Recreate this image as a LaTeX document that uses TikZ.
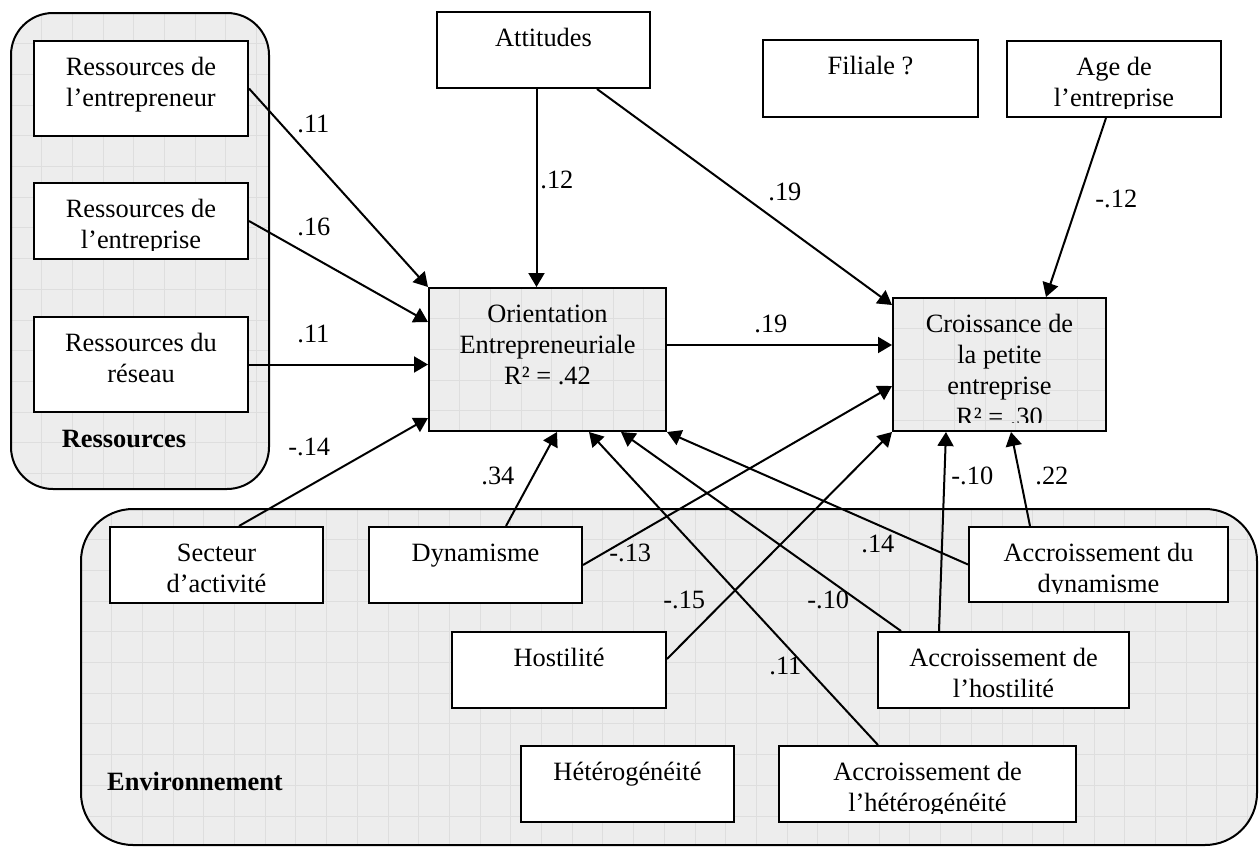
\documentclass[tikz,border=0pt]{standalone}
\usepackage{fontspec}
\setmainfont{Liberation Serif}
\usetikzlibrary{arrows.meta,calc,fit}
\newcommand{\gridin}[5]{%
  \fill[black!7, rounded corners=#5] (#1,#2) rectangle (#3,#4);
  \begin{scope}
    \clip[rounded corners=#5] (#1,#2) rectangle (#3,#4);
    \foreach \k in {1,...,40} {\draw[gridline] ({#1+\k*30.7},#2) -- ({#1+\k*30.7},#4);}
    \foreach \k in {1,...,16} {\draw[gridline] (#1,{#2+\k*30.7}) -- (#3,{#2+\k*30.7});}
  \end{scope}
  \draw[line width=1pt, rounded corners=#5] (#1,#2) rectangle (#3,#4);}
\newcommand{\boxtxt}[3]{%
  \begin{scope}
    \clip ($(#1.north west)+(2,2)$) rectangle ($(#1.south east)+(-2,-10)$);
    \node[txt] (#2) at ($(#1.north)+(0,13.3)$) {\strut #3};
  \end{scope}}
\begin{document}
\begin{tikzpicture}[x=0.5pt,y=-0.5pt,
  every node/.style={font=\fontsize{13.2}{15.5}\selectfont},
  box/.style={draw,fill=white,line width=1pt,inner sep=0pt,rectangle},
  gbox/.style={draw,line width=1pt,inner sep=0pt,rectangle},
  txt/.style={anchor=north,inner sep=0pt,align=center},
  lab/.style={anchor=base west,inner sep=0pt},
  bold/.style={anchor=base,inner sep=0pt,font=\fontsize{13.2}{15.5}\selectfont\bfseries},
  arr/.style={line width=1pt,-{Triangle[length=7pt,width=8pt]}},
  gridline/.style={draw=black!13,line width=0.5pt}
]
\useasboundingbox (0,0) rectangle (1259,847);

% group backgrounds
\gridin{11}{13}{269}{489}{21pt}
\gridin{81}{509}{1257}{845}{26pt}

% grey boxes
\gridin{429}{288}{666}{431}{0pt}
\gridin{893}{298}{1106}{431}{0pt}
\node[gbox, fit={(429,288) (666,431)}] (oe) {};
\node[gbox, fit={(893,298) (1106,431)}] (cr) {};

% white boxes
\node[box, fit={(34,41) (248,136)}] (r1) {};
\node[box, fit={(34,183) (248,259)}] (r2) {};
\node[box, fit={(34,317) (248,412)}] (r3) {};
\node[box, fit={(437,12) (650,88)}] (att) {};
\node[box, fit={(763,40) (978,117)}] (fil) {};
\node[box, fit={(1007,41) (1221,117)}] (age) {};
\node[box, fit={(110,527) (323,603)}] (sec) {};
\node[box, fit={(369,527) (582,603)}] (dyn) {};
\node[box, fit={(969,527) (1228,602)}] (adyn) {};
\node[box, fit={(452,632) (666,708)}] (host) {};
\node[box, fit={(878,632) (1129,708)}] (ahost) {};
\node[box, fit={(521,746) (734,822)}] (het) {};
\node[box, fit={(779,746) (1076,822)}] (ahet) {};

% texts
\boxtxt{r1}{tr1}{Ressources de\\l’entrepreneur}
\boxtxt{r2}{tr2}{Ressources de\\l’entreprise}
\boxtxt{r3}{tr3}{Ressources du\\réseau}
\boxtxt{att}{tatt}{Attitudes}
\boxtxt{fil}{tfil}{Filiale ?}
\boxtxt{age}{tage}{Age de\\l’entreprise}
\boxtxt{oe}{toe}{Orientation\\Entrepreneuriale\\R² = .42}
\boxtxt{cr}{tcr}{Croissance de\\la petite\\entreprise\\R² = .30}
\boxtxt{sec}{tsec}{Secteur\\d’activité}
\boxtxt{dyn}{tdyn}{Dynamisme}
\boxtxt{adyn}{tadyn}{Accroissement du\\dynamisme}
\boxtxt{host}{thost}{Hostilité}
\boxtxt{ahost}{tahost}{Accroissement de\\l’hostilité}
\boxtxt{het}{thet}{Hétérogénéité}
\boxtxt{ahet}{tahet}{Accroissement de\\l’hétérogénéité}

\node[bold] (gres) at (124,447) {Ressources};
\node[bold] (genv) at (195,790) {Environnement};

% arrows
\draw[arr] (r1.east) -- (oe.north west);
\draw[arr] (r2.east) -- ($(oe.north west)+(0,35)$);
\draw[arr] (r3.east) -- (r3.east -| oe.west);
\draw[arr] ($(sec.north)+(22.5,0)$) -- ($(oe.south west)+(0,-14)$);
\coordinate (a1) at ($(att.south)+(-7,0)$);
\draw[arr] (a1) -- (a1 |- oe.north);
\draw[arr] ($(att.south)+(53.5,0)$) -- ($(cr.north west)+(0,8)$);
\draw[arr] ($(age.south)+(-8,0)$) -- ($(cr.north)+(46.5,0)$);
\coordinate (o1) at ($(oe.north east)+(0,58)$);
\draw[arr] (o1) -- (o1 -| cr.west);
\draw[arr] ($(dyn.north)+(30.5,0)$) -- ($(oe.south west)+(129,0)$);
\draw[arr] ($(ahet.north)+(-49.5,0)$) -- ($(oe.south west)+(161,0)$);
\draw[arr] ($(ahost.north west)+(24,0)$) -- ($(oe.south west)+(193,0)$);
\draw[arr] (adyn.west) -- (oe.south east);
\draw[arr] (dyn.east) -- ($(cr.south west)+(0,-46)$);
\draw[arr] ($(host.east)+(0,-11)$) -- (cr.south west);
\draw[arr] ($(ahost.north)+(-64.5,0)$) -- ($(cr.south west)+(54,0)$);
\draw[arr] ($(adyn.north)+(-68.5,0)$) -- ($(cr.south west)+(119,0)$);

% coefficient labels
\node[lab] (l1) at (297,132) {.11};
\node[lab] (l2) at (297,235) {.16};
\node[lab] (l3) at (297,342) {.11};
\node[lab] (l4) at (288,455) {-.14};
\node[lab] (l5) at (540,188) {.12};
\node[lab] (l6) at (768,200) {.19};
\node[lab] (l7) at (1095,207) {-.12};
\node[lab] (l8) at (754,332) {.19};
\node[lab] (l9) at (481,484) {.34};
\node[lab] (l10) at (951,484) {-.10};
\node[lab] (l11) at (1035,484) {.22};
\node[lab] (l12) at (861,552) {.14};
\node[lab] (l13) at (609,561) {-.13};
\node[lab] (l14) at (663,608) {-.15};
\node[lab] (l15) at (807,608) {-.10};
\node[lab] (l16) at (769,674) {.11};
\end{tikzpicture}
\end{document}
